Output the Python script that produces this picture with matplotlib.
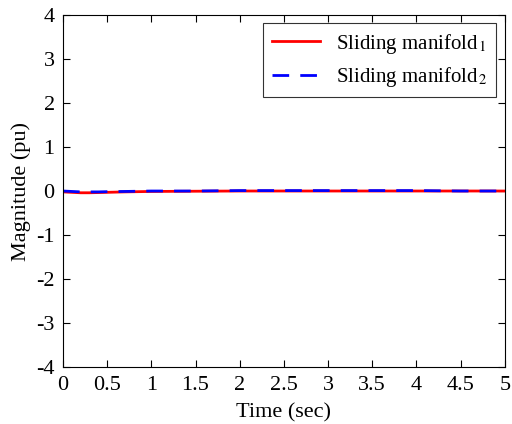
import matplotlib
matplotlib.use("Agg")
import matplotlib.pyplot as plt

plt.rcParams['font.family'] = ['Liberation Serif', 'DejaVu Serif']
plt.rcParams['mathtext.fontset'] = 'stix'
plt.rcParams['axes.unicode_minus'] = False

t = [0, 0.1, 0.2, 0.3, 0.4, 0.5, 0.7, 1.0, 1.5, 2.0, 2.5, 3.0, 3.5, 4.0, 4.5, 5.0]
s1 = [-0.02, -0.03, -0.04, -0.04, -0.035, -0.03, -0.02, -0.01, -0.005, 0.0, 0.0, 0.0, 0.0, 0.0, 0.0, 0.0]
s2 = [0.0, -0.01, -0.02, -0.02, -0.02, -0.015, -0.01, 0.0, 0.0, 0.01, 0.01, 0.01, 0.01, 0.01, 0.0, 0.0]

xticks = [0, 0.5, 1, 1.5, 2, 2.5, 3, 3.5, 4, 4.5, 5]
xticklabels = ['0', '0.5', '1', '1.5', '2', '2.5', '3', '3.5', '4', '4.5', '5']
yticks = list(range(-4, 5))

fig = plt.figure(figsize=(5.12, 4.24), dpi=100)
ax = fig.add_axes([0.123, 0.134, 0.863, 0.831])

ax.plot(t, s1, color='red', linewidth=2, label=r'Sliding manifold$_{\,1}$')
ax.plot(t, s2, color='blue', linewidth=2, linestyle=(0, (6, 4)), label=r'Sliding manifold$_{\,2}$')

ax.set_xlim(0, 5)
ax.set_ylim(-4, 4)
ax.set_xticks(xticks)
ax.set_xticklabels(xticklabels)
ax.set_yticks(yticks)
ax.tick_params(direction='in', top=True, right=True, labelsize=16, length=5)
ax.tick_params(axis='x', pad=6)
ax.tick_params(axis='y', pad=6)
ax.set_xlabel('Time (sec)', fontsize=16, labelpad=6)
ax.set_ylabel('Magnitude (pu)', fontsize=16, labelpad=4)

leg = ax.legend(loc='upper right', fontsize=15, fancybox=False, edgecolor='black',
                handlelength=2.3, borderaxespad=0.4, labelspacing=0.45)
leg.get_frame().set_linewidth(0.8)

fig.savefig('out.png', dpi=100)
